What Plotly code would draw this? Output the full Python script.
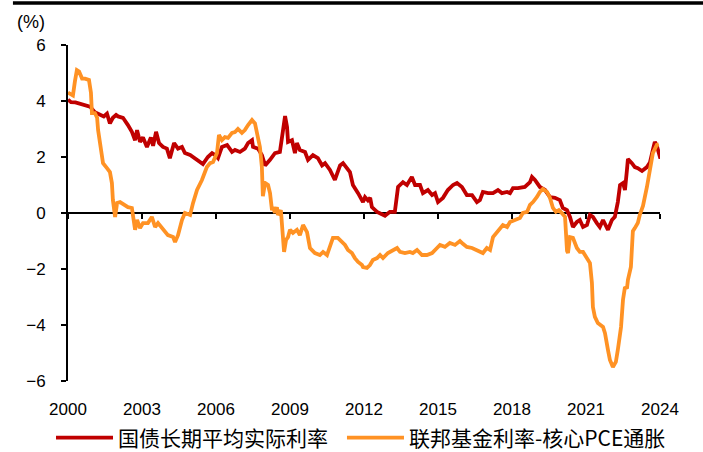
import plotly.graph_objects as go

# 国债长期平均实际利率 (decimal year, %)
red_x = [2000.00, 2000.12, 2000.30, 2000.49, 2000.70, 2000.89, 2001.09, 2001.30, 2001.45, 2001.58,
         2001.70, 2001.82, 2001.95, 2002.03, 2002.23, 2002.43, 2002.59, 2002.72, 2002.80, 2002.92,
         2003.04, 2003.20, 2003.36, 2003.45, 2003.57, 2003.69, 2003.85, 2004.01, 2004.13, 2004.30,
         2004.46, 2004.62, 2004.74, 2004.95, 2005.15, 2005.35, 2005.47, 2005.67, 2005.84, 2005.96,
         2006.08, 2006.24, 2006.45, 2006.65, 2006.77, 2006.97, 2007.17, 2007.30, 2007.46, 2007.50,
         2007.70, 2007.86, 2007.99, 2008.19, 2008.39, 2008.59, 2008.72, 2008.80, 2008.88, 2008.92,
         2009.08, 2009.20, 2009.28, 2009.40, 2009.61, 2009.73, 2009.93, 2010.13, 2010.30, 2010.42,
         2010.62, 2010.82, 2011.03, 2011.15, 2011.43, 2011.55, 2011.76, 2011.96, 2012.04, 2012.16,
         2012.25, 2012.32, 2012.53, 2012.65, 2012.85, 2013.05, 2013.25, 2013.38, 2013.58, 2013.74,
         2013.94, 2014.07, 2014.27, 2014.39, 2014.59, 2014.76, 2014.88, 2015.00, 2015.20, 2015.40,
         2015.61, 2015.77, 2015.97, 2016.17, 2016.38, 2016.58, 2016.70, 2016.82, 2017.03, 2017.23,
         2017.43, 2017.59, 2017.80, 2017.92, 2018.04, 2018.24, 2018.52, 2018.73, 2018.81, 2018.93,
         2019.13, 2019.34, 2019.54, 2019.74, 2019.94, 2020.06, 2020.23, 2020.35, 2020.47, 2020.63,
         2020.75, 2020.88, 2021.04, 2021.16, 2021.28, 2021.44, 2021.56, 2021.69, 2021.85, 2021.89,
         2022.05, 2022.17, 2022.29, 2022.38, 2022.50, 2022.58, 2022.66, 2022.70, 2022.86, 2022.98,
         2023.10, 2023.27, 2023.47, 2023.59, 2023.71, 2023.79, 2023.87, 2024.00, 2024.08]
red_y = [4.05, 3.96, 3.95, 3.90, 3.85, 3.80, 3.60, 3.50, 3.45, 3.55,
         3.20, 3.40, 3.50, 3.45, 3.40, 3.14, 2.90, 2.60, 2.96, 2.54,
         2.70, 2.36, 2.70, 2.40, 2.90, 2.50, 2.36, 2.30, 1.96, 2.50,
         2.30, 2.36, 2.14, 2.07, 1.96, 1.82, 1.75, 2.00, 2.14, 2.07,
         1.96, 2.36, 2.43, 2.18, 2.25, 2.18, 2.30, 2.50, 2.60, 2.36,
         2.30, 2.07, 1.70, 1.90, 2.14, 2.18, 2.96, 3.46, 3.07, 2.54,
         2.60, 2.14, 2.50, 2.25, 2.18, 1.90, 2.07, 1.96, 1.70, 1.78,
         1.54, 1.18, 1.70, 1.78, 1.46, 1.00, 0.71, 0.39, 0.57, 0.45,
         0.54, 0.21, 0.04, 0.00, -0.10, 0.04, 0.04, 0.93, 1.10, 1.00,
         1.29, 1.00, 1.00, 0.71, 0.82, 0.64, 0.71, 0.39, 0.54, 0.82,
         1.00, 1.07, 0.93, 0.64, 0.64, 0.39, 0.46, 0.75, 0.71, 0.71,
         0.82, 0.71, 0.75, 0.71, 0.89, 0.89, 0.93, 1.10, 1.29, 1.18,
         0.93, 0.82, 0.57, 0.54, 0.46, 0.18, 0.10, -0.14, -0.50, -0.32,
         -0.25, -0.50, -0.43, -0.07, -0.14, -0.36, -0.50, -0.25, -0.50, -0.60,
         -0.25, -0.14, 0.39, 1.00, 1.07, 0.82, 1.54, 1.93, 1.78, 1.64,
         1.60, 1.50, 1.64, 1.80, 2.25, 2.54, 2.40, 2.00, 2.00]

# 联邦基金利率-核心PCE通胀 (decimal year, %)
org_x = [2000.00, 2000.20, 2000.28, 2000.36, 2000.45, 2000.57, 2000.69, 2000.85, 2000.93, 2000.97,
         2001.09, 2001.18, 2001.22, 2001.30, 2001.42, 2001.58, 2001.70, 2001.78, 2001.82, 2001.91,
         2001.99, 2002.11, 2002.31, 2002.43, 2002.59, 2002.63, 2002.72, 2002.80, 2002.92, 2003.04,
         2003.24, 2003.40, 2003.53, 2003.65, 2003.85, 2004.05, 2004.26, 2004.34, 2004.46, 2004.62,
         2004.74, 2004.95, 2005.07, 2005.23, 2005.43, 2005.63, 2005.76, 2005.88, 2006.04, 2006.12,
         2006.24, 2006.36, 2006.49, 2006.65, 2006.77, 2006.89, 2007.05, 2007.17, 2007.30, 2007.46,
         2007.58, 2007.70, 2007.78, 2007.86, 2007.90, 2007.99, 2008.11, 2008.19, 2008.27, 2008.31,
         2008.39, 2008.47, 2008.51, 2008.63, 2008.67, 2008.76, 2008.84, 2008.92, 2009.00, 2009.12,
         2009.28, 2009.40, 2009.53, 2009.69, 2009.81, 2010.01, 2010.21, 2010.34, 2010.50, 2010.62,
         2010.74, 2010.94, 2011.11, 2011.23, 2011.35, 2011.51, 2011.63, 2011.76, 2011.92, 2011.96,
         2012.12, 2012.24, 2012.36, 2012.53, 2012.65, 2012.77, 2012.97, 2013.17, 2013.34, 2013.46,
         2013.66, 2013.86, 2013.98, 2014.15, 2014.35, 2014.55, 2014.76, 2014.96, 2015.08, 2015.28,
         2015.48, 2015.69, 2015.89, 2016.01, 2016.17, 2016.38, 2016.58, 2016.70, 2016.82, 2016.98,
         2017.11, 2017.23, 2017.39, 2017.51, 2017.63, 2017.80, 2017.92, 2018.12, 2018.32, 2018.44,
         2018.61, 2018.73, 2018.85, 2019.01, 2019.13, 2019.25, 2019.42, 2019.54, 2019.66, 2019.78,
         2019.90, 2020.02, 2020.15, 2020.23, 2020.27, 2020.35, 2020.47, 2020.63, 2020.75, 2020.88,
         2021.04, 2021.16, 2021.24, 2021.28, 2021.36, 2021.48, 2021.69, 2021.77, 2021.89, 2021.97,
         2022.09, 2022.21, 2022.29, 2022.42, 2022.50, 2022.58, 2022.66, 2022.70, 2022.82, 2022.90,
         2022.98, 2023.10, 2023.18, 2023.31, 2023.47, 2023.59, 2023.71, 2023.87, 2023.95]
org_y = [4.30, 4.20, 4.70, 5.10, 5.05, 4.80, 4.80, 4.75, 4.30, 3.57,
         3.57, 3.40, 2.96, 2.50, 1.78, 1.60, 1.46, 1.07, 0.46, -0.14,
         0.36, 0.39, 0.29, 0.21, 0.18, -0.14, -0.60, -0.25, -0.54, -0.36,
         -0.36, -0.14, -0.50, -0.36, -0.60, -0.79, -0.86, -1.04, -0.79, -0.25,
         0.00, -0.07, 0.36, 0.82, 1.18, 1.64, 1.78, 1.82, 2.14, 2.79,
         2.60, 2.71, 2.68, 2.86, 2.89, 3.00, 2.86, 2.96, 3.14, 3.32,
         3.20, 2.71, 2.36, 1.64, 0.60, 1.07, 1.00, 0.71, 0.10, 0.21,
         0.00, 0.21, -0.07, 0.10, -0.50, -1.39, -0.96, -0.86, -0.60, -0.71,
         -0.60, -0.79, -0.43, -0.68, -1.25, -1.43, -1.50, -1.39, -1.50, -1.21,
         -0.89, -0.89, -1.04, -1.14, -1.32, -1.43, -1.61, -1.75, -1.86, -1.93,
         -1.96, -1.86, -1.68, -1.61, -1.50, -1.61, -1.43, -1.32, -1.25, -1.39,
         -1.43, -1.39, -1.43, -1.32, -1.50, -1.50, -1.43, -1.25, -1.14, -1.21,
         -1.07, -1.14, -1.00, -1.10, -1.21, -1.25, -1.32, -1.39, -1.43, -1.25,
         -1.32, -0.86, -0.68, -0.54, -0.43, -0.50, -0.32, -0.25, -0.18, 0.00,
         0.04, 0.29, 0.39, 0.57, 0.75, 0.86, 0.75, 0.54, 0.18, 0.04,
         0.10, 0.00, -0.14, -1.35, -1.43, -0.86, -0.89, -1.25, -1.39, -1.39,
         -1.61, -1.79, -2.50, -3.36, -3.71, -3.93, -4.07, -4.29, -4.89, -5.25,
         -5.50, -5.32, -4.89, -4.07, -3.10, -2.64, -2.70, -2.39, -1.93, -0.65,
         -0.54, -0.36, -0.07, 0.25, 0.93, 1.64, 2.14, 2.43, 2.45]

tick_vals = [2000, 2003, 2006, 2009, 2012, 2015, 2018, 2021, 2024]
tick_text = ["2000", "2003", "2006", "2009", "2012", "2015", "2018", "2021", "2024"]
y_ticks = [-6, -4, -2, 0, 2, 4, 6]
x_range = [2000, 2024]
y_range = [-6, 6]

RED = "#C00000"
ORANGE = "#FF9224"
TICK_FONT = dict(family="Liberation Sans, Arial, sans-serif", size=17, color="black")
UNIT_FONT = dict(family="Liberation Sans, Arial, sans-serif", size=18, color="black")
CJK_FONT = dict(family="Noto Sans CJK SC, sans-serif", size=21, color="black")

fig = go.Figure()
fig.add_trace(go.Scatter(x=red_x, y=red_y, mode="lines", name="国债长期平均实际利率",
                         line=dict(color=RED, width=3.8), hoverinfo="skip", legend="legend"))
fig.add_trace(go.Scatter(x=org_x, y=org_y, mode="lines", name="联邦基金利率-核心PCE通胀",
                         line=dict(color=ORANGE, width=3.8), hoverinfo="skip", legend="legend2"))
# helper trace so that the zero-line axis (x2) is drawn
fig.add_trace(go.Scatter(x=x_range, y=[None, None], xaxis="x2", yaxis="y", mode="lines",
                         showlegend=False, hoverinfo="skip"))

legend_common = dict(orientation="h", xanchor="left", y=-0.1696, yanchor="middle",
                     font=CJK_FONT, itemwidth=57, bgcolor="rgba(0,0,0,0)")

fig.update_layout(
    width=703, height=452,
    margin=dict(l=68, r=43, t=45, b=71, autoexpand=False),
    paper_bgcolor="white", plot_bgcolor="white",
    showlegend=True,
    legend=dict(x=-0.0287, **legend_common),
    legend2=dict(x=0.4628, **legend_common),
    xaxis=dict(range=x_range, tickvals=tick_vals, ticktext=tick_text, showline=False,
               showgrid=False, zeroline=False, ticks="", tickfont=TICK_FONT,
               ticklabelstandoff=16, anchor="y"),
    xaxis2=dict(range=x_range, overlaying="x", anchor="free", position=0.5, side="bottom",
                tickvals=tick_vals, showticklabels=False, showline=True, linecolor="black",
                linewidth=2, ticks="outside", ticklen=5, tickwidth=2, tickcolor="black",
                showgrid=False, zeroline=False, layer="below traces"),
    yaxis=dict(range=y_range, tickvals=y_ticks, showline=True, linecolor="black", linewidth=2,
               ticks="outside", ticklen=5, tickwidth=2, tickcolor="black", showgrid=False,
               zeroline=False, tickfont=TICK_FONT, ticklabelstandoff=12),
    annotations=[dict(text="(%)", xref="paper", yref="paper", x=-0.063, y=1.069,
                      xanchor="center", yanchor="middle", showarrow=False, font=UNIT_FONT)],
    shapes=[dict(type="line", xref="paper", yref="paper", x0=-0.093, x1=1.1, y0=1.125, y1=1.125,
                 line=dict(color="black", width=3.5))],
)

fig.write_html("out.html", config={"displayModeBar": False},
               post_script="document.body.style.margin='0px';")
